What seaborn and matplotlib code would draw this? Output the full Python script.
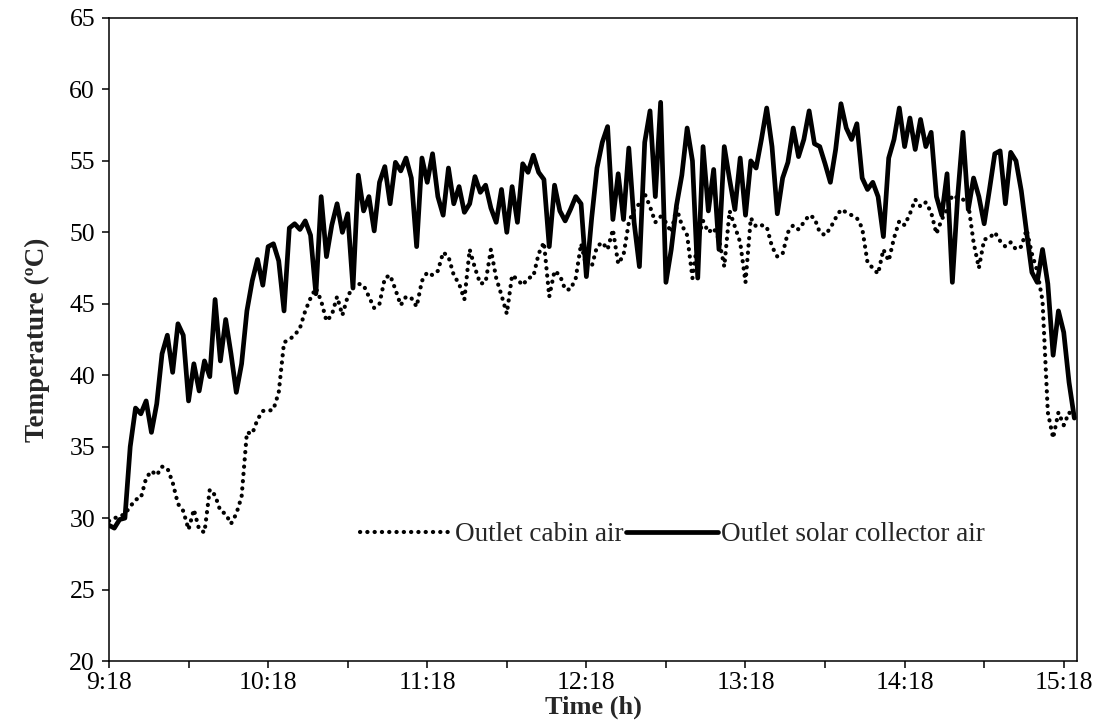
import numpy as np
import pandas as pd
import matplotlib
matplotlib.use("Agg")
import matplotlib.pyplot as plt
import seaborn as sns

# minutes after 9:18, sampled every 2 min
minutes = np.arange(0, 366, 2)

collector_air = [
    29.5, 29.3, 29.9, 30.0, 35.0, 37.7, 37.3, 38.2, 36.0, 38.0, 41.5, 42.8, 40.2, 43.6, 42.8,
    38.2, 40.8, 38.9, 41.0, 39.9, 45.3, 41.0, 43.9, 41.5, 38.8, 40.8, 44.5, 46.6, 48.1, 46.3,
    49.0, 49.2, 48.0, 44.5, 50.3, 50.6, 50.2, 50.8, 49.8, 45.7, 52.5, 48.3, 50.5, 52.0, 50.0,
    51.3, 46.1, 54.0, 51.5, 52.5, 50.1, 53.5, 54.6, 52.0, 54.9, 54.3, 55.2, 53.8, 49.0, 55.2,
    53.5, 55.5, 52.5, 51.2, 54.5, 52.0, 53.2, 51.4, 52.0, 53.9, 52.8, 53.3, 51.7, 50.7, 53.0,
    50.0, 53.2, 50.7, 54.8, 54.2, 55.4, 54.2, 53.7, 49.0, 53.3, 51.5, 50.8, 51.6, 52.5, 52.0,
    46.9, 51.0, 54.5, 56.3, 57.4, 50.9, 54.1, 50.9, 55.9, 50.7, 47.6, 56.3, 58.5, 52.5, 59.1,
    46.5, 48.8, 51.9, 54.0, 57.3, 55.0, 46.8, 56.0, 51.5, 54.4, 48.8, 56.0, 53.7, 51.6, 55.2,
    51.2, 55.0, 54.5, 56.5, 58.7, 56.0, 51.3, 53.8, 54.9, 57.3, 55.3, 56.5, 58.5, 56.2, 56.0,
    54.8, 53.5, 55.8, 59.0, 57.3, 56.5, 57.6, 53.8, 53.0, 53.5, 52.5, 49.7, 55.2, 56.5, 58.7,
    56.0, 58.0, 55.8, 57.9, 56.0, 57.0, 52.5, 51.2, 54.1, 46.5, 52.5, 57.0, 51.6, 53.8, 52.5,
    50.6, 53.0, 55.5, 55.7, 52.0, 55.6, 55.0, 52.9, 50.0, 47.2, 46.5, 48.8, 46.4, 41.4, 44.5,
    43.0, 39.5, 37.0,
]

cabin_air = [
    29.8, 30.0, 30.1, 30.3, 30.8, 31.3, 31.4, 32.8, 33.3, 33.0, 33.6, 33.5, 32.5, 31.0, 30.5,
    29.2, 30.6, 29.2, 29.0, 32.0, 31.6, 30.5, 30.3, 29.6, 30.3, 31.5, 36.0, 35.9, 36.9, 37.5,
    37.5, 37.6, 38.8, 42.3, 42.5, 42.8, 43.3, 44.5, 45.4, 46.1, 45.2, 43.8, 44.2, 45.5, 44.2,
    45.5, 46.2, 46.4, 46.3, 45.5, 44.7, 45.0, 46.8, 47.0, 46.0, 44.9, 45.5, 45.4, 44.8, 46.6,
    47.2, 47.0, 47.3, 48.6, 48.3, 47.0, 46.4, 45.3, 48.8, 47.5, 46.4, 46.5, 48.8, 46.8, 45.6,
    44.3, 47.0, 46.7, 46.3, 46.8, 46.9, 48.5, 49.3, 45.5, 47.3, 47.0, 46.0, 46.0, 46.8, 49.2,
    47.6, 47.6, 49.0, 49.3, 48.8, 50.2, 47.8, 48.4, 50.7, 51.6, 52.0, 52.7, 51.8, 50.7, 51.1,
    50.7, 50.0, 51.7, 50.5, 49.8, 46.8, 49.5, 50.8, 50.0, 50.3, 49.5, 47.6, 51.5, 50.4, 49.3,
    46.5, 51.0, 50.4, 50.5, 50.4, 49.0, 48.3, 48.5, 50.0, 50.5, 50.2, 50.7, 51.2, 51.0, 50.0,
    49.8, 50.3, 51.0, 51.6, 51.4, 51.2, 51.0, 50.3, 47.9, 47.5, 47.1, 48.8, 48.0, 49.6, 50.8,
    50.5, 51.3, 52.3, 51.8, 52.1, 51.4, 49.9, 50.9, 51.6, 52.6, 52.4, 52.3, 52.0, 49.3, 47.5,
    49.5, 49.6, 50.0, 49.4, 49.0, 49.3, 48.8, 49.0, 50.2, 48.5, 47.3, 45.2, 37.4, 35.6, 37.4,
    36.5, 37.4, 37.0,
]

tick_minutes = [0, 60, 120, 180, 240, 300, 360]
tick_labels = ["9:18", "10:18", "11:18", "12:18", "13:18", "14:18", "15:18"]
minor_minutes = [30, 90, 150, 210, 270, 330]
y_ticks = [20, 25, 30, 35, 40, 45, 50, 55, 60, 65]

sns.set_theme(style="ticks")
plt.rcParams["font.family"] = ["Liberation Serif", "DejaVu Serif"]

df = pd.DataFrame({"t": minutes, "cabin": cabin_air, "collector": collector_air})

fig = plt.figure(figsize=(10.98, 7.27), dpi=100)
ax = fig.add_axes([109 / 1098, 1 - 661 / 727, (1077 - 109) / 1098, (661 - 18) / 727])

sns.lineplot(data=df, x="t", y="cabin", ax=ax, color="black", lw=3.0,
             estimator=None, sort=False, label="Outlet cabin air")
line_cab = ax.lines[-1]
line_cab.set_dashes([0.05, 1.7])
line_cab.set_dash_capstyle("round")

sns.lineplot(data=df, x="t", y="collector", ax=ax, color="black", lw=3.4,
             estimator=None, sort=False, label="Outlet solar collector air")

ax.set_xlim(0, 365)
ax.set_ylim(20, 65)
ax.set_xticks(tick_minutes)
ax.set_xticklabels(tick_labels)
ax.set_xticks(minor_minutes, minor=True)
ax.set_yticks(y_ticks)

for s in ax.spines.values():
    s.set_visible(True)
    s.set_color("black")
    s.set_linewidth(1.1)

ax.tick_params(axis="both", which="both", direction="out", length=5, width=1.1,
               color="black", labelsize=18.5, labelcolor="black")
ax.tick_params(axis="x", which="major", pad=3)
ax.tick_params(axis="y", which="major", pad=5)

ax.set_xlabel("Time (h)", fontsize=19, fontweight="bold", labelpad=1)
ax.set_ylabel("Temperature (ºC)", fontsize=19.5, fontweight="bold", labelpad=14)

leg = ax.legend(loc="center", bbox_to_anchor=(0.582, 0.196), ncol=2, frameon=False,
                fontsize=19.5, handlelength=3.4, handletextpad=0.1, columnspacing=0.1,
                borderaxespad=0)

fig.savefig("out.png", dpi=100)
